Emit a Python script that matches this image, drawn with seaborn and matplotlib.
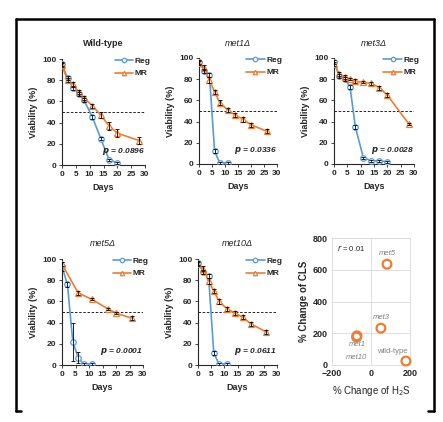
import matplotlib
matplotlib.use("Agg")
import matplotlib.pyplot as plt
import seaborn as sns
from matplotlib.lines import Line2D

BLUE = "#5B9BD5"
ORANGE = "#ED7D31"
GREY = "#7F7F7F"

# ---- survival curves (days, viability %, error) ----
wt_reg_days = [0, 2, 4, 6, 8, 11, 14, 17, 20]
wt_reg_val = [95, 82, 73, 67, 61, 45, 25, 5, 2]
wt_reg_err = [2, 2, 2, 2, 2, 2, 1, 1, 1]
wt_mr_days = [0, 2, 4, 6, 8, 11, 14, 17, 20, 28]
wt_mr_val = [94, 80, 76, 69, 63, 56, 47, 37, 30, 23]
wt_mr_err = [2, 2, 2, 2, 2, 2, 3, 4, 4, 3]

met1_reg_days = [0, 2, 4, 6, 8, 11]
met1_reg_val = [96, 88, 84, 12, 1, 1]
met1_reg_err = [2, 2, 2, 2, 1, 1]
met1_mr_days = [0, 2, 4, 6, 8, 11, 14, 17, 20, 26]
met1_mr_val = [95, 91, 79, 68, 58, 51, 46, 42, 37, 31]
met1_mr_err = [2, 2, 3, 2, 2, 2, 2, 2, 2, 2]

met3_reg_days = [0, 2, 4, 6, 8, 11, 14, 17, 20]
met3_reg_val = [96, 83, 80, 73, 35, 6, 3, 3, 2]
met3_reg_err = [2, 2, 2, 2, 2, 1, 1, 1, 1]
met3_mr_days = [0, 2, 4, 6, 8, 11, 14, 17, 20, 28]
met3_mr_val = [94, 85, 82, 80, 78, 77, 76, 72, 65, 38]
met3_mr_err = [2, 2, 2, 1, 2, 1, 1, 2, 2, 1]

met5_reg_days = [0, 2, 4, 6, 8, 11]
met5_reg_val = [93, 76, 22, 7, 1, 1]
met5_reg_err = [4, 2, 18, 5, 1, 1]
met5_mr_days = [0, 6, 11, 17, 20, 26]
met5_mr_val = [95, 68, 62, 53, 49, 44]
met5_mr_err = [2, 2, 1, 1, 1, 2]

met10_reg_days = [0, 2, 4, 6, 8, 11]
met10_reg_val = [96, 88, 84, 11, 1, 1]
met10_reg_err = [2, 2, 2, 2, 1, 1]
met10_mr_days = [0, 2, 4, 6, 8, 11, 14, 17, 20, 26]
met10_mr_val = [95, 91, 79, 70, 60, 53, 49, 45, 39, 31]
met10_mr_err = [2, 2, 3, 2, 2, 2, 2, 2, 2, 2]

titles = ["Wild-type", "met1Δ", "met3Δ", "met5Δ", "met10Δ"]
p_values = ["0.0896", "0.0336", "0.0028", "0.0001", "0.0611"]

# ---- correlation panel ----
strains = ["met5", "met3", "met1", "met10", "wild-type"]
h2s_change = [82, 51, -72, -74, 179]
cls_change = [635, 232, 184, 176, 25]

sns.set_style("ticks")
plt.rcParams["font.family"] = ["Liberation Sans Narrow", "Liberation Sans", "DejaVu Sans"]
plt.rcParams["axes.linewidth"] = 0.8

W, H = 443, 422
fig = plt.figure(figsize=(W / 100, H / 100), dpi=100)


def px_axes(l, r, t, b):
    return fig.add_axes([l / W, 1 - b / H, (r - l) / W, (b - t) / H])


boxes = [(62, 145, 59, 165), (199, 277, 58, 164), (334, 414, 58, 164),
         (62, 143, 259, 365), (198, 277, 259, 365)]

curves = [
    (wt_reg_days, wt_reg_val, wt_reg_err, wt_mr_days, wt_mr_val, wt_mr_err),
    (met1_reg_days, met1_reg_val, met1_reg_err, met1_mr_days, met1_mr_val, met1_mr_err),
    (met3_reg_days, met3_reg_val, met3_reg_err, met3_mr_days, met3_mr_val, met3_mr_err),
    (met5_reg_days, met5_reg_val, met5_reg_err, met5_mr_days, met5_mr_val, met5_mr_err),
    (met10_reg_days, met10_reg_val, met10_reg_err, met10_mr_days, met10_mr_val, met10_mr_err),
]

for i, (box, c) in enumerate(zip(boxes, curves)):
    ax = px_axes(*box)
    rd, rv, re, md, mv, me = c
    ax.axhline(50, color="black", lw=0.6, ls=(0, (3, 2)), zorder=1)
    sns.lineplot(x=rd, y=rv, ax=ax, color=BLUE, lw=1.2, marker="o", ms=4,
                 mfc="white", mec=BLUE, mew=0.9, label="Reg", zorder=3)
    sns.lineplot(x=md, y=mv, ax=ax, color=ORANGE, lw=1.2, marker="^", ms=4,
                 mfc="white", mec=ORANGE, mew=0.9, label="MR", zorder=3)
    ax.errorbar(rd, rv, yerr=re, fmt="none", ecolor="black", elinewidth=0.6,
                capsize=1.5, capthick=0.6, zorder=4)
    ax.errorbar(md, mv, yerr=me, fmt="none", ecolor="black", elinewidth=0.6,
                capsize=1.5, capthick=0.6, zorder=4)
    ax.set_xlim(0, 30)
    ax.set_ylim(0, 100)
    ax.set_xticks(range(0, 31, 5))
    ax.set_yticks(range(0, 101, 20))
    ax.tick_params(labelsize=6, length=2.5, width=0.6, pad=1.5)
    for lab in ax.get_xticklabels() + ax.get_yticklabels():
        lab.set_fontweight("bold")
    ax.set_xlabel("Days", fontsize=6.5, fontweight="bold", labelpad=4)
    ax.set_ylabel("Viability (%)", fontsize=6.5, fontweight="bold", labelpad=3)
    if i == 0:
        ax.set_title(titles[i], fontsize=6.5, fontweight="bold", pad=9)
    else:
        ax.set_title(titles[i], fontsize=6.5, style="italic", pad=9)
    ax.text(30, 13, "$\\mathbfit{p}$ = " + p_values[i], fontsize=6,
            fontweight="bold", style="italic", ha="right", va="center")
    ax.legend(loc="upper right", bbox_to_anchor=(1.12, 1.06), frameon=False,
              prop={"size": 6, "weight": "bold"}, handlelength=2.2,
              handletextpad=0.2, labelspacing=0.6, borderpad=0, markerscale=0.8)
    sns.despine(ax=ax)

# ---- scatter of H2S change vs CLS change ----
ax = px_axes(332, 410, 238, 365)
ax.set_axisbelow(True)
sns.scatterplot(x=h2s_change, y=cls_change, ax=ax, s=40, marker="o",
                color=ORANGE, linewidth=1.6, zorder=3, clip_on=False)
pts = ax.collections[-1]
pts.set_facecolor("none")
pts.set_edgecolor(ORANGE)
ax.set_xlim(-200, 200)
ax.set_ylim(0, 800)
ax.set_xticks([-200, 0, 200])
ax.set_yticks(range(0, 801, 200))
ax.grid(axis="y", color="#D9D9D9", lw=0.6)
ax.axvline(0, color="#D9D9D9", lw=0.6, zorder=0)
for s in ax.spines.values():
    s.set_color("#D9D9D9")
    s.set_linewidth(0.6)
ax.tick_params(labelsize=6.5, length=0, pad=3)
for lab in ax.get_xticklabels() + ax.get_yticklabels():
    lab.set_fontweight("bold")
ax.set_xlabel("% Change of H$_2$S", fontsize=7, labelpad=4)
ax.set_ylabel("% Change of CLS", fontsize=7, fontweight="bold", labelpad=3)
label_pos = [(82, 705), (51, 300), (-72, 130), (-72, 48), (110, 85)]
for name, (lx, ly) in zip(strains, label_pos):
    ax.text(lx, ly, name, fontsize=5.5, color=GREY, ha="center", va="center",
            style="normal" if name == "wild-type" else "italic")
ax.text(-176, 737, "$\\mathit{r}$ = 0.01", fontsize=5.5, ha="left", va="center")

# ---- outer frame ----
fx = lambda v: v / W
fy = lambda v: 1 - v / H
frame = [((16, 16), (19, 411)), ((16, 434), (19, 19)), ((434, 434), (19, 411)),
         ((16, 21), (411, 411)), ((428, 434), (411, 411))]
for xs, ys in frame:
    fig.add_artist(Line2D([fx(v) for v in xs], [fy(v) for v in ys],
                          color="black", lw=1.8, transform=fig.transFigure))

fig.savefig("out.png", dpi=100)
